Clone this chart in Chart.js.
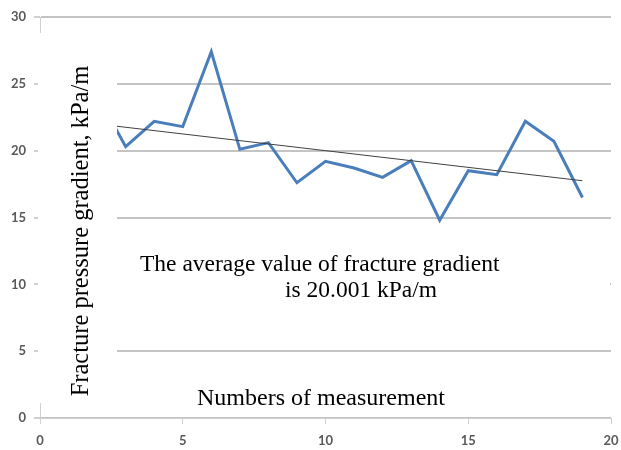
<!DOCTYPE html>
<html>
<head>
<meta charset="utf-8">
<script src="https://cdn.jsdelivr.net/npm/chart.js@4"></script>
<style>
  html, body { margin: 0; padding: 0; background: #fff; }
  #wrap { width: 621px; height: 450px; }
</style>
</head>
<body>
<div id="wrap"><canvas id="chart" width="621" height="450"></canvas></div>
<script>
// Fracture gradient per measurement

const measurements = [1, 2, 3, 4, 5, 6, 7, 8, 9, 10, 11, 12, 13, 14, 15, 16, 17, 18, 19];
const gradient = [19.8, 24.2, 20.3, 22.2, 21.8, 27.4, 20.1, 20.6, 17.6, 19.2, 18.7, 18.0, 19.25, 14.8, 18.5, 18.2, 22.2, 20.7, 16.5];
const trendX = [1, 19];
const trendY = [22.25, 17.75];
const xTicks = [0, 5, 10, 15, 20];
const yTicks = [0, 5, 10, 15, 20, 25, 30];

const yTitle = 'Fracture pressure gradient, kPa/m';
const xTitle = 'Numbers of measurement';
const noteLines = ['The average value of fracture gradient', 'is 20.001 kPa/m'];

const SERIF = '"Liberation Serif", "Times New Roman", serif';

// white boxes behind the text, then the text itself
const textPlugin = {
  id: 'texts',
  afterDatasetsDraw(chart) {
    const ctx = chart.ctx;
    const { left, right } = chart.chartArea;
    ctx.save();
    ctx.fillStyle = '#ffffff';
    ctx.fillRect(left - 2, 33, 117 - left + 2, 370);
    ctx.fillRect(117, 244, right - 118, 62);

    ctx.fillStyle = '#000000';
    ctx.font = '23.5px ' + SERIF;
    ctx.textBaseline = 'alphabetic';
    ctx.textAlign = 'left';
    ctx.fillText(noteLines[0], 140, 271);
    ctx.fillText(noteLines[1], 285, 297);

    ctx.font = '24px ' + SERIF;
    ctx.textAlign = 'center';
    ctx.fillText(xTitle, 321, 405);

    ctx.font = '24.5px ' + SERIF;
    ctx.translate(88, 231);
    ctx.rotate(-Math.PI / 2);
    ctx.fillText(yTitle, 0, 0);
    ctx.restore();
  }
};

const tickFont = { family: 'Lato, "Open Sans", sans-serif', size: 13, weight: 'bold' };

new Chart(document.getElementById('chart'), {
  type: 'scatter',
  data: {
    datasets: [
      {
        label: 'gradient',
        data: measurements.map((m, i) => ({ x: m, y: gradient[i] })),
        showLine: true,
        borderColor: '#4a7ebb',
        borderWidth: 3,
        pointRadius: 0,
        tension: 0,
        order: 2,
      },
      {
        label: 'trend',
        data: trendX.map((m, i) => ({ x: m, y: trendY[i] })),
        showLine: true,
        borderColor: '#404040',
        borderWidth: 1,
        pointRadius: 0,
        order: 1,
      },
    ],
  },
  options: {
    responsive: false,
    animation: false,
    layout: { padding: { top: 17, right: 10, left: 0, bottom: 0 } },
    plugins: {
      legend: { display: false },
      tooltip: { enabled: false },
    },
    scales: {
      x: {
        type: 'linear',
        min: 0,
        max: 20,
        afterBuildTicks: (s) => { s.ticks = xTicks.map(v => ({ value: v })); },
        afterFit: (s) => { s.height = 32; s.paddingRight = 0; s.paddingLeft = 0; },
        grid: { drawOnChartArea: false, drawTicks: true, tickLength: 6, tickColor: '#d0d0d0' },
        border: { color: '#d0d0d0', width: 1 },
        ticks: { color: '#595959', font: tickFont, padding: 9 },
      },
      y: {
        type: 'linear',
        min: 0,
        max: 30,
        afterBuildTicks: (s) => { s.ticks = yTicks.map(v => ({ value: v })); },
        afterFit: (s) => { s.width = 40; s.paddingTop = 0; s.paddingBottom = 0; },
        grid: { color: '#c4c4c4', lineWidth: 2, drawTicks: true, tickLength: 6, tickColor: '#d0d0d0' },
        border: { color: '#d0d0d0', width: 1 },
        ticks: { color: '#595959', font: tickFont, padding: 8 },
      },
    },
  },
  plugins: [textPlugin],
});
</script>
</body>
</html>
